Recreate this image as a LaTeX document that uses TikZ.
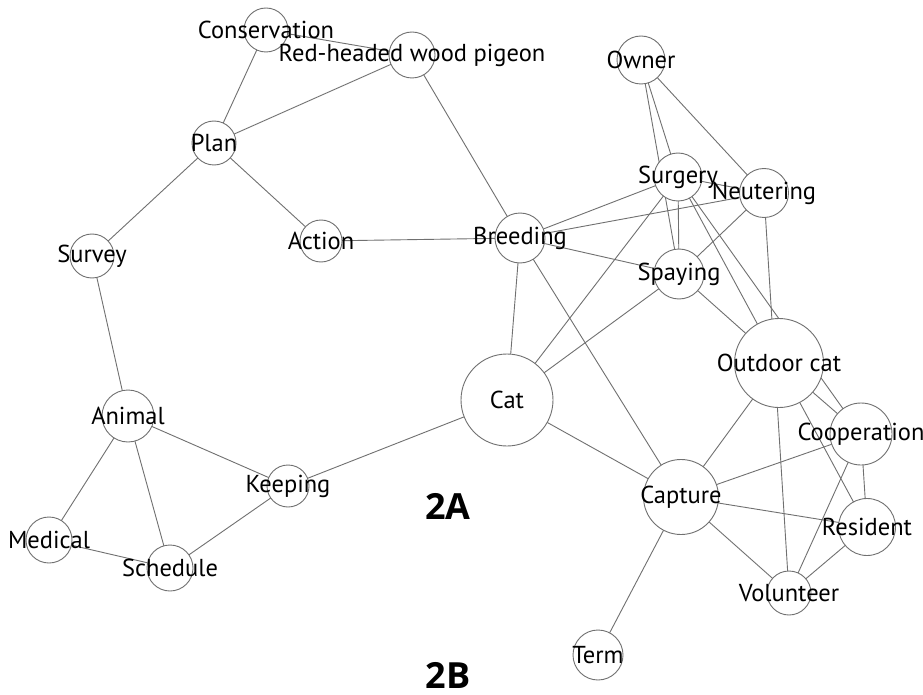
\documentclass[tikz,border=0pt]{standalone}
\usepackage{fontspec}
\setmainfont{PT Sans}
\newfontfamily\tagfont{Open Sans}
\usetikzlibrary{backgrounds}
\definecolor{edgegray}{RGB}{112,112,112}
\newcommand\mkvtx[5]{\node[vtx,minimum size=#4pt,label={[lab]center:#5}] (#1) at (#2,#3) {};}
\begin{document}
\begin{tikzpicture}[x=1pt,y=-1pt,
  vtx/.style={circle,draw=edgegray,fill=white,line width=0.9pt,inner sep=0pt},
  lab/.style={font=\fontsize{24.5}{24.5}\selectfont,text=black,inner sep=0pt},
  edge/.style={draw=edgegray,line width=0.9pt},
  tag/.style={font=\tagfont\bfseries\fontsize{36}{36}\selectfont,text=black,inner sep=0pt}]
\useasboundingbox (0,0) rectangle (923,695);
\mkvtx{cons}{266}{30}{44}{Conservation}
\mkvtx{red}{412}{55}{46}{Red-headed wood pigeon}
\mkvtx{plan}{214}{143}{44}{Plan}
\mkvtx{survey}{92}{256}{44}{Survey}
\mkvtx{action}{321}{241}{42}{Action}
\mkvtx{breeding}{520}{238}{50}{Breeding}
\mkvtx{owner}{641}{60}{48}{Owner}
\mkvtx{surgery}{678}{177}{48}{Surgery}
\mkvtx{neutering}{764}{193}{49}{Neutering}
\mkvtx{spaying}{679}{274}{50}{Spaying}
\mkvtx{outdoor}{779}{363}{89}{Outdoor cat}
\mkvtx{coop}{861}{434}{62}{Cooperation}
\mkvtx{capture}{681}{497}{75}{Capture}
\mkvtx{resident}{867}{527}{57}{Resident}
\mkvtx{volunteer}{789}{593}{44}{Volunteer}
\mkvtx{cat}{507}{400}{92}{Cat}
\mkvtx{animal}{128}{416}{52}{Animal}
\mkvtx{keeping}{288}{486}{42}{Keeping}
\mkvtx{medical}{49}{540}{46}{Medical}
\mkvtx{schedule}{170}{568}{46}{Schedule}
\mkvtx{term}{598}{655}{50}{Term}
\node[tag] (tagA) at (448,506) {2A};
\node[tag] (tagB) at (448,675) {2B};
\begin{scope}[on background layer]
\fill[white] (0,0) rectangle (923,695);
\foreach \a/\b in {cons/red,cons/plan,plan/red,plan/survey,plan/action,red/breeding,
  action/breeding,survey/animal,animal/keeping,animal/medical,animal/schedule,
  medical/schedule,schedule/keeping,keeping/cat,cat/breeding,cat/surgery,cat/spaying,
  cat/capture,breeding/surgery,breeding/neutering,breeding/spaying,breeding/capture,
  owner/surgery,owner/spaying,owner/neutering,surgery/neutering,surgery/spaying,
  surgery/resident,surgery/coop,neutering/spaying,neutering/volunteer,spaying/outdoor,
  outdoor/capture,outdoor/coop,capture/coop,capture/resident,capture/volunteer,
  capture/term,coop/resident,coop/volunteer,resident/volunteer}
  {\draw[edge] (\a.center) -- (\b.center);}
\end{scope}
\end{tikzpicture}
\end{document}
